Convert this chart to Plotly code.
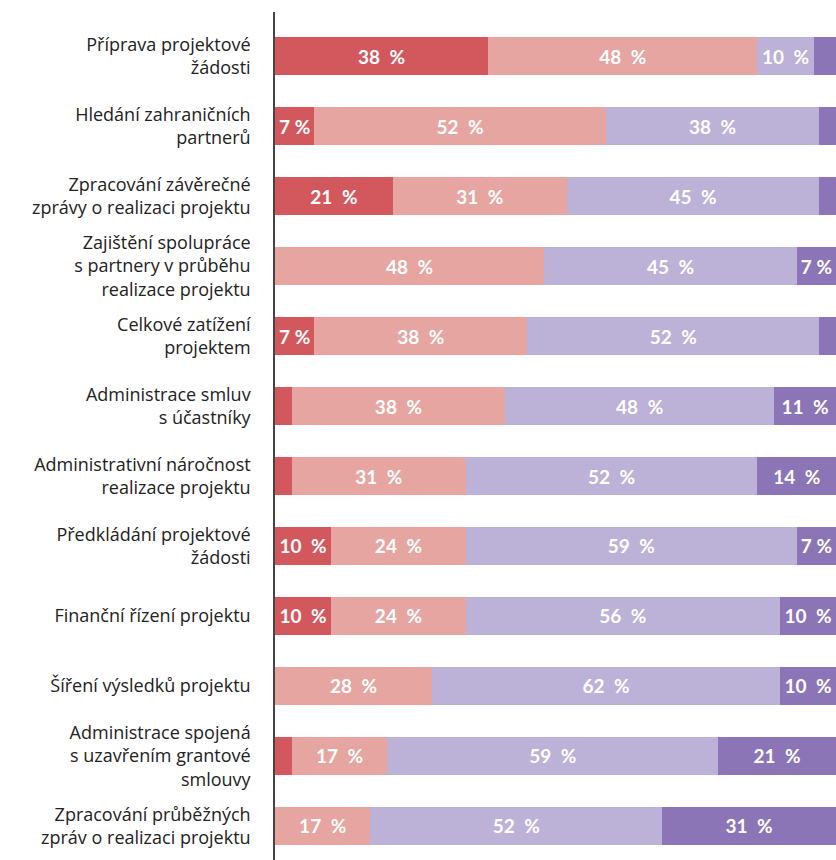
import plotly.graph_objects as go

categories = [
    "Příprava projektové<br>žádosti",
    "Hledání zahraničních<br>partnerů",
    "Zpracování závěrečné<br>zprávy o realizaci projektu",
    "Zajištění spolupráce<br>s partnery v průběhu<br>realizace projektu",
    "Celkové zatížení<br>projektem",
    "Administrace smluv<br>s účastníky",
    "Administrativní náročnost<br>realizace projektu",
    "Předkládání projektové<br>žádosti",
    "Finanční řízení projektu",
    "Šíření výsledků projektu",
    "Administrace spojená<br>s uzavřením grantové<br>smlouvy",
    "Zpracování průběžných<br>zpráv o realizaci projektu",
]

series_names = ["Velmi náročné", "Spíše náročné", "Spíše nenáročné", "Zcela nenáročné"]
s1 = [38, 7, 21, 0, 7, 3, 3, 10, 10, 0, 3, 0]
s2 = [48, 52, 31, 48, 38, 38, 31, 24, 24, 28, 17, 17]
s3 = [10, 38, 45, 45, 52, 48, 52, 59, 56, 62, 59, 52]
s4 = [4, 3, 3, 7, 3, 11, 14, 7, 10, 10, 21, 31]

colors = ["#D3585D", "#E6A5A0", "#BCB1D7", "#8B75B6"]

fig = go.Figure()
for name, vals, col in zip(series_names, [s1, s2, s3, s4], colors):
    fig.add_trace(go.Bar(
        y=categories,
        x=vals,
        name=name,
        orientation="h",
        marker=dict(color=col, line=dict(width=0)),
        text=[(f"{v}\u2002%" if v >= 10 else f"{v}\u00a0%") if v >= 5 else "" for v in vals],
        textposition="inside",
        insidetextanchor="middle",
        constraintext="none",
        textfont=dict(family="Lato", size=19, color="white", weight="bold"),
        hoverinfo="skip",
    ))

fig.update_layout(
    barmode="stack",
    width=836,
    height=860,
    margin=dict(l=275, r=0, t=12, b=0),
    paper_bgcolor="white",
    plot_bgcolor="white",
    showlegend=False,
    bargap=0.457,
    xaxis=dict(range=[0, 100], visible=False, fixedrange=True),
    yaxis=dict(
        type="category",
        categoryorder="array",
        categoryarray=categories,
        range=[11.486, -0.629],
        showline=True,
        linecolor="#444444",
        linewidth=1.5,
        showgrid=False,
        zeroline=False,
        ticks="",
        ticklabelstandoff=19,
        tickfont=dict(family="Open Sans", size=18, color="#222222"),
        fixedrange=True,
    ),
)

fig.write_html(
    "out.html",
    config={"displayModeBar": False},
    post_script="document.body.style.margin='0';document.body.style.overflow='hidden';",
)
